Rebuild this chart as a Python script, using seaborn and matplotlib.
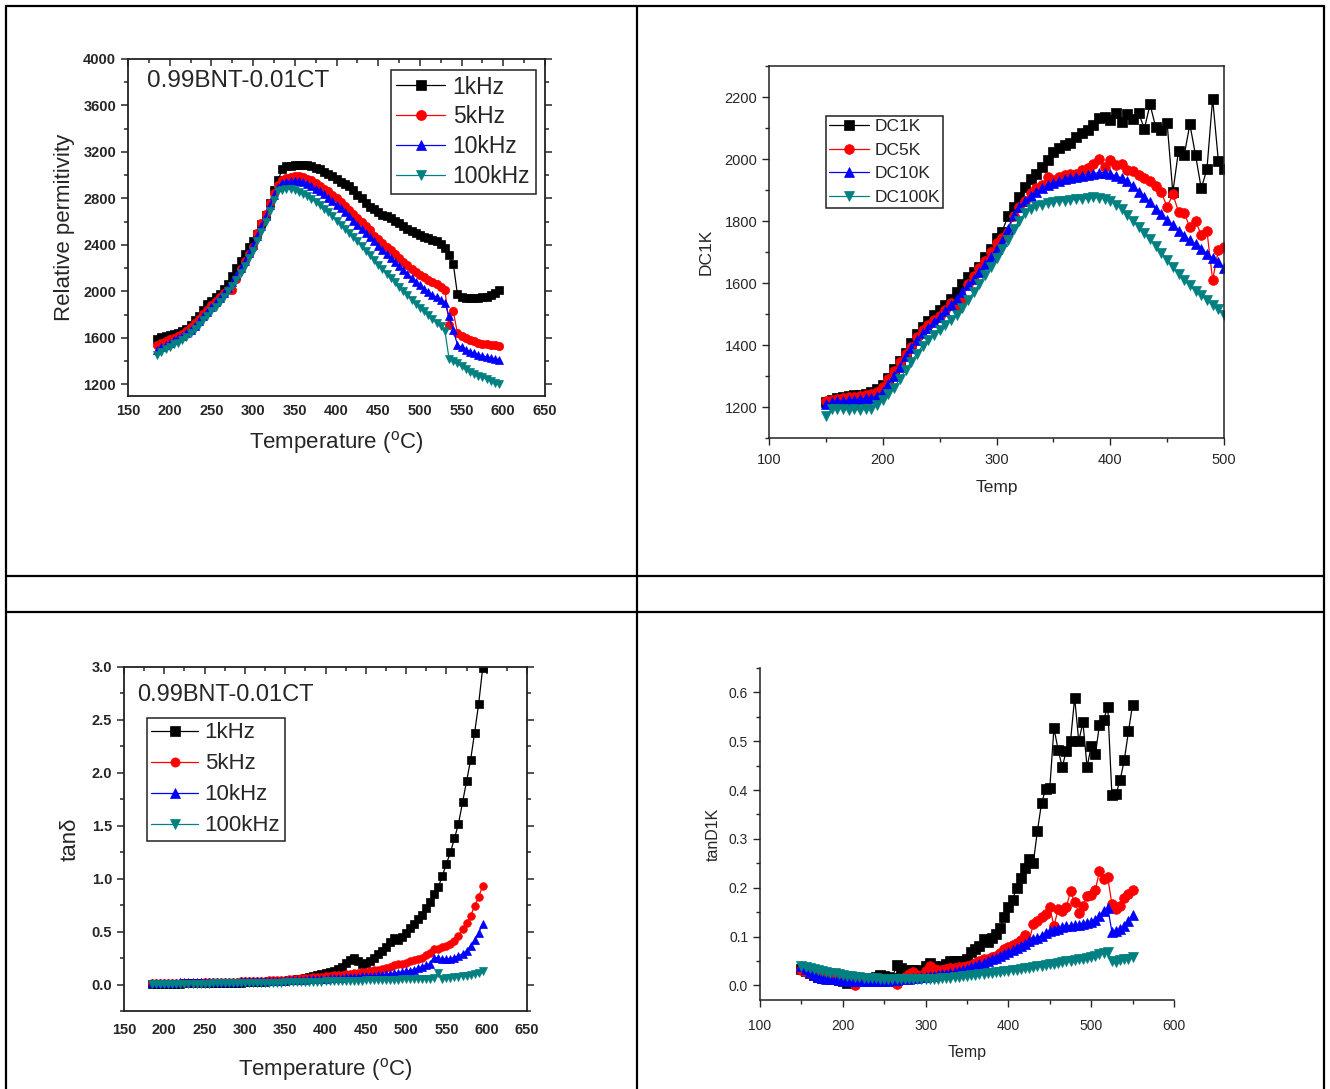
import numpy as np
import pandas as pd
import matplotlib
matplotlib.use("Agg")
import matplotlib.pyplot as plt
from matplotlib.lines import Line2D
from matplotlib.ticker import MultipleLocator
import seaborn as sns

# ---------------- data ----------------
# panel 1 / 3 : 0.99BNT-0.01CT, temperature grid (degC)
temp_a = [185, 190, 195, 200, 205, 210, 215, 220, 225, 230, 235, 240, 245, 250, 255, 260, 265,
          270, 275, 280, 285, 290, 295, 300, 305, 310, 315, 320, 325, 330, 335, 340, 345, 350,
          355, 360, 365, 370, 375, 380, 385, 390, 395, 400, 405, 410, 415, 420, 425, 430, 435,
          440, 445, 450, 455, 460, 465, 470, 475, 480, 485, 490, 495, 500, 505, 510, 515, 520,
          525, 530, 535, 540, 545, 550, 555, 560, 565, 570, 575, 580, 585, 590, 595]

perm_1k = [1590, 1605, 1615, 1625, 1632, 1640, 1660, 1680, 1710, 1750, 1790, 1840, 1890, 1920,
           1955, 1980, 2020, 2060, 2130, 2200, 2260, 2320, 2380, 2430, 2490, 2580, 2660, 2760,
           2870, 2960, 3050, 3075, 3080, 3085, 3090, 3090, 3085, 3075, 3060, 3050, 3030, 3010,
           2990, 2965, 2945, 2925, 2905, 2870, 2830, 2800, 2765, 2730, 2705, 2680, 2660, 2645,
           2630, 2610, 2590, 2565, 2540, 2520, 2500, 2485, 2470, 2460, 2445, 2430, 2410, 2370,
           2310, 2240, 1975, 1950, 1945, 1940, 1940, 1942, 1948, 1955, 1970, 1990, 2010]
perm_5k = [1540, 1560, 1575, 1590, 1600, 1615, 1635, 1660, 1690, 1725, 1765, 1805, 1840, 1880,
           1920, 1955, 1985, 2010, 2010, 2110, 2190, 2260, 2320, 2380, 2500, 2590, 2670, 2760,
           2850, 2920, 2955, 2975, 2985, 2990, 2990, 2985, 2970, 2955, 2935, 2910, 2885, 2860,
           2830, 2800, 2770, 2735, 2700, 2665, 2630, 2600, 2565, 2530, 2480, 2450, 2415, 2385,
           2355, 2320, 2290, 2255, 2225, 2195, 2170, 2145, 2120, 2100, 2080, 2060, 2040, 2015,
           1710, 1830, 1640, 1615, 1600, 1585, 1570, 1560, 1550, 1545, 1540, 1535, 1533]
perm_10k = [1500, 1520, 1540, 1560, 1578, 1595, 1615, 1640, 1670, 1705, 1745, 1785, 1825, 1865,
            1905, 1945, 1985, 2030, 2080, 2140, 2200, 2260, 2330, 2400, 2480, 2560, 2650, 2740,
            2830, 2895, 2930, 2945, 2950, 2950, 2948, 2940, 2925, 2905, 2885, 2860, 2835, 2805,
            2775, 2745, 2715, 2680, 2645, 2610, 2575, 2540, 2500, 2465, 2430, 2395, 2360, 2325,
            2290, 2255, 2220, 2185, 2150, 2115, 2085, 2055, 2025, 1995, 1970, 1950, 1930, 1900,
            1785, 1670, 1540, 1520, 1495, 1480, 1468, 1455, 1445, 1437, 1428, 1420, 1412]
perm_100k = [1455, 1480, 1505, 1525, 1545, 1560, 1585, 1610, 1640, 1675, 1710, 1750, 1790, 1830,
             1870, 1910, 1955, 2000, 2050, 2100, 2160, 2220, 2285, 2350, 2430, 2510, 2600, 2690,
             2790, 2860, 2875, 2880, 2878, 2870, 2855, 2840, 2820, 2795, 2770, 2740, 2710, 2680,
             2645, 2610, 2575, 2540, 2505, 2465, 2430, 2390, 2350, 2310, 2270, 2230, 2190, 2150,
             2115, 2080, 2040, 2005, 1970, 1930, 1895, 1860, 1830, 1795, 1765, 1730, 1700, 1660,
             1420, 1400, 1380, 1355, 1330, 1310, 1290, 1275, 1260, 1245, 1230, 1215, 1200]

tan_1k = [0.006, 0.006, 0.007, 0.007, 0.008, 0.008, 0.009, 0.009, 0.010, 0.010, 0.011, 0.011,
          0.012, 0.012, 0.013, 0.013, 0.013, 0.014, 0.015, 0.016, 0.017, 0.018, 0.019, 0.020,
          0.021, 0.022, 0.023, 0.025, 0.027, 0.029, 0.031, 0.033, 0.035, 0.037, 0.040, 0.045,
          0.050, 0.055, 0.065, 0.075, 0.080, 0.088, 0.095, 0.105, 0.115, 0.130, 0.150, 0.170,
          0.200, 0.230, 0.250, 0.225, 0.195, 0.200, 0.220, 0.250, 0.285, 0.320, 0.355, 0.400,
          0.440, 0.425, 0.445, 0.490, 0.530, 0.570, 0.615, 0.660, 0.720, 0.780, 0.860, 0.920,
          1.030, 1.140, 1.250, 1.380, 1.520, 1.720, 1.920, 2.120, 2.380, 2.650, 2.990]
tan_5k = [0.012, 0.012, 0.012, 0.013, 0.013, 0.014, 0.014, 0.015, 0.015, 0.016, 0.017, 0.018,
          0.019, 0.020, 0.021, 0.022, 0.023, 0.024, 0.025, 0.026, 0.027, 0.028, 0.029, 0.030,
          0.031, 0.032, 0.033, 0.035, 0.037, 0.039, 0.041, 0.043, 0.045, 0.047, 0.050, 0.053,
          0.056, 0.059, 0.062, 0.065, 0.068, 0.071, 0.074, 0.078, 0.082, 0.086, 0.090, 0.094,
          0.098, 0.102, 0.106, 0.110, 0.115, 0.120, 0.126, 0.133, 0.142, 0.151, 0.160, 0.170,
          0.180, 0.190, 0.198, 0.207, 0.218, 0.230, 0.240, 0.255, 0.275, 0.300, 0.335, 0.340,
          0.350, 0.365, 0.385, 0.415, 0.460, 0.520, 0.580, 0.650, 0.740, 0.830, 0.930]
tan_10k = [0.018, 0.018, 0.018, 0.018, 0.019, 0.019, 0.019, 0.020, 0.020, 0.021, 0.021, 0.022,
           0.022, 0.023, 0.023, 0.024, 0.025, 0.025, 0.026, 0.027, 0.027, 0.028, 0.029, 0.030,
           0.030, 0.031, 0.032, 0.033, 0.034, 0.035, 0.036, 0.037, 0.038, 0.039, 0.040, 0.042,
           0.043, 0.045, 0.047, 0.049, 0.051, 0.053, 0.055, 0.057, 0.059, 0.061, 0.063, 0.065,
           0.067, 0.069, 0.071, 0.073, 0.076, 0.079, 0.082, 0.085, 0.089, 0.093, 0.097, 0.101,
           0.106, 0.112, 0.119, 0.125, 0.132, 0.142, 0.155, 0.168, 0.182, 0.196, 0.255, 0.250,
           0.240, 0.245, 0.245, 0.255, 0.270, 0.290, 0.320, 0.365, 0.420, 0.490, 0.570]
tan_100k = [0.008, 0.008, 0.008, 0.008, 0.008, 0.008, 0.008, 0.008, 0.008, 0.008, 0.008, 0.009,
            0.009, 0.009, 0.009, 0.010, 0.010, 0.010, 0.011, 0.011, 0.012, 0.012, 0.013, 0.013,
            0.014, 0.014, 0.015, 0.016, 0.016, 0.017, 0.018, 0.018, 0.019, 0.020, 0.021, 0.022,
            0.022, 0.023, 0.024, 0.025, 0.026, 0.027, 0.028, 0.029, 0.030, 0.031, 0.032, 0.033,
            0.034, 0.035, 0.036, 0.037, 0.038, 0.039, 0.040, 0.041, 0.042, 0.043, 0.044, 0.045,
            0.046, 0.047, 0.048, 0.049, 0.050, 0.051, 0.052, 0.053, 0.054, 0.056, 0.058, 0.110,
            0.055, 0.060, 0.065, 0.070, 0.075, 0.080, 0.085, 0.092, 0.100, 0.110, 0.130]

# panel 2 : DC (dielectric constant) vs Temp
temp_b = [150, 155, 160, 165, 170, 175, 180, 185, 190, 195, 200, 205, 210, 215, 220, 225, 230,
          235, 240, 245, 250, 255, 260, 265, 270, 275, 280, 285, 290, 295, 300, 305, 310, 315,
          320, 325, 330, 335, 340, 345, 350, 355, 360, 365, 370, 375, 380, 385, 390, 395, 400,
          405, 410, 415, 420, 425, 430, 435, 440, 445, 450, 455, 460, 465, 470, 475, 480, 485,
          490, 495, 500]
dc_1k = [1215, 1222, 1228, 1232, 1236, 1238, 1240, 1243, 1248, 1258, 1270, 1295, 1322, 1348,
         1375, 1405, 1435, 1458, 1478, 1498, 1512, 1528, 1548, 1570, 1598, 1618, 1637, 1651,
         1683, 1710, 1745, 1766, 1815, 1845, 1878, 1910, 1935, 1952, 1975, 1998, 2021, 2037,
         2046, 2053, 2071, 2083, 2094, 2110, 2132, 2134, 2125, 2150, 2118, 2145, 2128, 2148,
         2098, 2176, 2102, 2092, 2116, 1892, 2026, 2012, 2112, 2012, 1905, 1967, 2195, 1995, 1967]
dc_5k = [1220, 1224, 1227, 1230, 1232, 1233, 1235, 1238, 1242, 1248, 1265, 1290, 1315, 1345,
         1372, 1395, 1425, 1448, 1465, 1482, 1495, 1512, 1535, 1518, 1545, 1598, 1622, 1648,
         1670, 1700, 1730, 1745, 1765, 1815, 1845, 1866, 1890, 1908, 1915, 1942, 1932, 1942,
         1948, 1951, 1952, 1965, 1972, 1985, 2000, 1975, 1998, 1980, 1985, 1965, 1962, 1950,
         1938, 1928, 1912, 1892, 1845, 1887, 1830, 1825, 1780, 1800, 1755, 1768, 1610, 1705, 1716]
dc_10k = [1210, 1215, 1218, 1220, 1222, 1224, 1226, 1228, 1230, 1234, 1250, 1275, 1300, 1330,
          1365, 1390, 1415, 1438, 1455, 1473, 1490, 1510, 1530, 1550, 1572, 1592, 1612, 1635,
          1660, 1685, 1710, 1735, 1775, 1820, 1845, 1865, 1882, 1895, 1905, 1915, 1922, 1928,
          1934, 1938, 1942, 1946, 1950, 1953, 1956, 1956, 1952, 1946, 1938, 1928, 1912, 1895,
          1878, 1860, 1840, 1822, 1803, 1788, 1768, 1752, 1738, 1725, 1710, 1695, 1680, 1668, 1650]
dc_100k = [1170, 1195, 1192, 1195, 1190, 1193, 1190, 1193, 1195, 1205, 1222, 1242, 1262, 1290,
           1318, 1345, 1372, 1398, 1415, 1432, 1448, 1465, 1480, 1498, 1520, 1545, 1570, 1598,
           1625, 1652, 1680, 1710, 1740, 1775, 1800, 1825, 1840, 1848, 1853, 1858, 1862, 1864,
           1866, 1868, 1870, 1872, 1874, 1876, 1875, 1872, 1866, 1852, 1840, 1820, 1801, 1782,
           1762, 1742, 1720, 1698, 1675, 1652, 1630, 1610, 1592, 1575, 1560, 1545, 1530, 1515, 1498]

# panel 4 : tanD vs Temp
temp_c = [150, 155, 160, 165, 170, 175, 180, 185, 190, 195, 200, 205, 210, 215, 220, 225, 230,
          235, 240, 245, 250, 255, 260, 265, 270, 275, 280, 285, 290, 295, 300, 305, 310, 315,
          320, 325, 330, 335, 340, 345, 350, 355, 360, 365, 370, 375, 380, 385, 390, 395, 400,
          405, 410, 415, 420, 425, 430, 435, 440, 445, 450, 455, 460, 465, 470, 475, 480, 485,
          490, 495, 500, 505, 510, 515, 520, 525, 530, 535, 540, 545, 550]
td_1k = [0.034, 0.030, 0.025, 0.021, 0.018, 0.016, 0.015, 0.013, 0.012, 0.010, 0.008, 0.005,
         0.007, 0.010, 0.011, 0.012, 0.014, 0.015, 0.018, 0.022, 0.020, 0.018, 0.016, 0.041,
         0.035, 0.030, 0.032, 0.032, 0.031, 0.030, 0.040, 0.046, 0.040, 0.037, 0.039, 0.044,
         0.049, 0.049, 0.049, 0.050, 0.053, 0.068, 0.075, 0.080, 0.094, 0.089, 0.097, 0.106,
         0.118, 0.140, 0.160, 0.175, 0.200, 0.219, 0.241, 0.258, 0.250, 0.316, 0.373, 0.402,
         0.404, 0.527, 0.483, 0.447, 0.481, 0.500, 0.589, 0.500, 0.539, 0.447, 0.490, 0.473,
         0.534, 0.544, 0.571, 0.390, 0.392, 0.421, 0.462, 0.520, 0.575]
td_5k = [0.032, 0.028, 0.025, 0.023, 0.022, 0.021, 0.022, 0.020, 0.019, 0.018, 0.018, 0.016,
         0.018, 0.001, 0.010, 0.012, 0.012, 0.011, 0.010, 0.010, 0.012, 0.010, 0.008, 0.003,
         0.012, 0.018, 0.024, 0.027, 0.022, 0.020, 0.030, 0.039, 0.033, 0.031, 0.032, 0.034,
         0.036, 0.036, 0.037, 0.038, 0.039, 0.042, 0.046, 0.050, 0.053, 0.055, 0.058, 0.060,
         0.066, 0.074, 0.078, 0.082, 0.087, 0.092, 0.103, 0.090, 0.125, 0.132, 0.140, 0.147,
         0.160, 0.121, 0.156, 0.153, 0.160, 0.193, 0.170, 0.149, 0.162, 0.183, 0.186, 0.195,
         0.234, 0.217, 0.221, 0.166, 0.156, 0.162, 0.178, 0.188, 0.195]
td_10k = [0.039, 0.033, 0.028, 0.022, 0.018, 0.016, 0.014, 0.013, 0.012, 0.011, 0.010, 0.009,
          0.008, 0.008, 0.008, 0.008, 0.008, 0.008, 0.008, 0.008, 0.008, 0.009, 0.010, 0.011,
          0.012, 0.013, 0.014, 0.015, 0.016, 0.017, 0.018, 0.019, 0.020, 0.021, 0.023, 0.024,
          0.025, 0.027, 0.029, 0.031, 0.034, 0.037, 0.040, 0.043, 0.046, 0.050, 0.053, 0.057,
          0.060, 0.064, 0.068, 0.073, 0.077, 0.081, 0.085, 0.090, 0.094, 0.098, 0.102, 0.107,
          0.111, 0.114, 0.116, 0.119, 0.121, 0.122, 0.123, 0.124, 0.125, 0.127, 0.130, 0.133,
          0.142, 0.152, 0.159, 0.110, 0.112, 0.115, 0.122, 0.132, 0.145]
td_100k = [0.040, 0.038, 0.036, 0.034, 0.032, 0.030, 0.028, 0.026, 0.025, 0.023, 0.021, 0.020,
           0.019, 0.018, 0.017, 0.016, 0.016, 0.015, 0.015, 0.014, 0.014, 0.013, 0.013, 0.013,
           0.012, 0.012, 0.012, 0.012, 0.012, 0.013, 0.013, 0.013, 0.014, 0.014, 0.015, 0.015,
           0.016, 0.017, 0.018, 0.019, 0.020, 0.021, 0.022, 0.023, 0.024, 0.025, 0.026, 0.027,
           0.028, 0.029, 0.030, 0.031, 0.032, 0.034, 0.035, 0.036, 0.037, 0.039, 0.040, 0.041,
           0.043, 0.044, 0.046, 0.047, 0.049, 0.050, 0.052, 0.053, 0.055, 0.057, 0.059, 0.061,
           0.064, 0.066, 0.068, 0.050, 0.048, 0.051, 0.053, 0.055, 0.058]

freq_labels = ['1kHz', '5kHz', '10kHz', '100kHz']
dc_labels = ['DC1K', 'DC5K', 'DC10K', 'DC100K']
colors = ['black', 'red', 'blue', '#008080']
markers = ['s', 'o', '^', 'v']

# ---------------- style ----------------
sns.set_style('white')
plt.rcParams['font.family'] = ['Liberation Sans', 'DejaVu Sans']
plt.rcParams['mathtext.fontset'] = 'custom'
plt.rcParams['mathtext.rm'] = 'Liberation Sans'

W, H = 1330, 1089
fig = plt.figure(figsize=(W / 100, H / 100), dpi=100)


def px_axes(left, top, right, bottom):
    return fig.add_axes([left / W, 1 - bottom / H, (right - left) / W, (bottom - top) / H])


def draw_series(ax, x, ys, labels, ms):
    for y, lab, c, m in zip(ys, labels, colors, markers):
        sns.lineplot(x=x, y=y, ax=ax, color=c, marker=m, markersize=ms,
                     markeredgecolor=c, markeredgewidth=0.5, linewidth=0.9, label=lab,
                     sort=False, estimator=None)


def style_box(ax, lw=1.3):
    for s in ax.spines.values():
        s.set_visible(True)
        s.set_color('#222222')
        s.set_linewidth(lw)


def boxed_legend(ax, **kw):
    leg = ax.legend(frameon=True, fancybox=False, edgecolor='#222222', framealpha=1,
                    borderaxespad=0, **kw)
    leg.get_frame().set_linewidth(1.1)
    return leg


# ======== TOP LEFT: relative permittivity ========
ax1 = px_axes(128, 59, 545, 396)
draw_series(ax1, temp_a, [perm_1k, perm_5k, perm_10k, perm_100k], freq_labels, 6)
style_box(ax1)
ax1.set_xlim(150, 650)
ax1.set_ylim(1100, 4000)
ax1.xaxis.set_major_locator(MultipleLocator(50))
ax1.xaxis.set_minor_locator(MultipleLocator(25))
ax1.yaxis.set_minor_locator(MultipleLocator(200))
ax1.yaxis.set_ticks([1200, 1600, 2000, 2400, 2800, 3200, 3600, 4000])
ax1.tick_params(axis='both', which='both', top=True, right=True, direction='in',
                labelsize=10.5, width=1.1)
ax1.tick_params(axis='y', which='both', left=True, direction='out')
ax1.tick_params(axis='x', pad=6)
ax1.tick_params(which='major', length=5)
ax1.tick_params(which='minor', length=3)
for t in ax1.get_xticklabels() + ax1.get_yticklabels():
    t.set_fontweight('bold')
ax1.set_xlabel('Temperature ($^{\\rm o}$C)', fontsize=16, labelpad=8)
ax1.set_ylabel('Relative permitivity', fontsize=16, labelpad=6)
ax1.text(0.045, 0.935, '0.99BNT-0.01CT', transform=ax1.transAxes, fontsize=17.5,
         va='center', ha='left')
boxed_legend(ax1, loc='upper right', bbox_to_anchor=(0.978, 0.968), fontsize=16.5,
             handlelength=2.1, handletextpad=0.35, borderpad=0.25, labelspacing=0.3,
             markerscale=1.2)

# ======== TOP RIGHT: DC vs Temp ========
ax2 = px_axes(769, 66, 1224, 438)
draw_series(ax2, temp_b, [dc_1k, dc_5k, dc_10k, dc_100k], dc_labels, 7)
style_box(ax2, 1.1)
ax2.set_xlim(100, 500)
ax2.set_ylim(1100, 2300)
ax2.xaxis.set_major_locator(MultipleLocator(100))
ax2.xaxis.set_minor_locator(MultipleLocator(50))
ax2.yaxis.set_minor_locator(MultipleLocator(100))
ax2.yaxis.set_ticks([1200, 1400, 1600, 1800, 2000, 2200])
ax2.tick_params(axis='both', which='both', direction='out', labelsize=10.5, width=1.0,
                bottom=True, left=True)
ax2.tick_params(axis='x', pad=6)
ax2.tick_params(which='major', length=5)
ax2.tick_params(which='minor', length=3)
ax2.set_xlabel('Temp', fontsize=12.5, labelpad=9)
ax2.set_ylabel('DC1K', fontsize=12.5, labelpad=8)
boxed_legend(ax2, loc='upper left', bbox_to_anchor=(0.125, 0.866), fontsize=12.5,
             handlelength=2.3, handletextpad=0.3, borderpad=0.2, labelspacing=0.48)

# ======== BOTTOM LEFT: tan delta ========
ax3 = px_axes(124, 667, 527, 1011)
draw_series(ax3, temp_a, [tan_1k, tan_5k, tan_10k, tan_100k], freq_labels, 5.5)
style_box(ax3)
ax3.set_xlim(150, 650)
ax3.set_ylim(-0.25, 3.0)
ax3.xaxis.set_major_locator(MultipleLocator(50))
ax3.xaxis.set_minor_locator(MultipleLocator(25))
ax3.yaxis.set_minor_locator(MultipleLocator(0.25))
ax3.yaxis.set_ticks([0.0, 0.5, 1.0, 1.5, 2.0, 2.5, 3.0])
ax3.yaxis.set_major_formatter(matplotlib.ticker.FormatStrFormatter('%.1f'))
ax3.tick_params(axis='both', which='both', top=True, right=True, direction='in',
                labelsize=10.5, width=1.1)
ax3.tick_params(axis='y', which='both', left=True, direction='out')
ax3.tick_params(axis='x', pad=9)
ax3.tick_params(which='major', length=5)
ax3.tick_params(which='minor', length=3)
for t in ax3.get_xticklabels() + ax3.get_yticklabels():
    t.set_fontweight('bold')
ax3.set_xlabel('Temperature ($^{\\rm o}$C)', fontsize=16, labelpad=13)
ax3.set_ylabel('tan\u03b4', fontsize=16, labelpad=8)
ax3.text(0.032, 0.92, '0.99BNT-0.01CT', transform=ax3.transAxes, fontsize=17,
         va='center', ha='left')
boxed_legend(ax3, loc='upper left', bbox_to_anchor=(0.057, 0.852), fontsize=16,
             handlelength=2.1, handletextpad=0.3, borderpad=0.2, labelspacing=0.45,
             markerscale=1.2)

# ======== BOTTOM RIGHT: tanD vs Temp ========
ax4 = px_axes(760, 668, 1174, 1000)
draw_series(ax4, temp_c, [td_1k, td_5k, td_10k, td_100k], dc_labels, 7)
ax4.get_legend().remove()
sns.despine(ax=ax4)
for s in ['left', 'bottom']:
    ax4.spines[s].set_color('#222222')
    ax4.spines[s].set_linewidth(1.1)
ax4.set_xlim(100, 600)
ax4.set_ylim(-0.03, 0.65)
ax4.xaxis.set_major_locator(MultipleLocator(100))
ax4.xaxis.set_minor_locator(MultipleLocator(50))
ax4.yaxis.set_ticks([0.0, 0.1, 0.2, 0.3, 0.4, 0.5, 0.6])
ax4.yaxis.set_minor_locator(MultipleLocator(0.05))
ax4.yaxis.set_major_formatter(matplotlib.ticker.FormatStrFormatter('%.1f'))
ax4.tick_params(axis='both', which='both', direction='out', labelsize=10, width=1.0,
                bottom=True, left=True)
ax4.tick_params(axis='x', pad=9)
ax4.tick_params(which='major', length=5)
ax4.tick_params(which='minor', length=3)
ax4.set_xlabel('Temp', fontsize=11.5, labelpad=8)
ax4.set_ylabel('tanD1K', fontsize=11.5, labelpad=6)

# ======== table borders ========
def fline(x0, y0, x1, y1, lw=1.6):
    fig.add_artist(Line2D([x0 / W, x1 / W], [1 - y0 / H, 1 - y1 / H],
                          transform=fig.transFigure, color='black', linewidth=lw))


fline(6, 6, 1324, 6)
fline(6, 6, 6, H)
fline(1324, 6, 1324, H)
fline(637, 6, 637, H)
fline(6, 576, 1324, 576)
fline(6, 612, 1324, 612)

fig.savefig('out.png', dpi=100)
